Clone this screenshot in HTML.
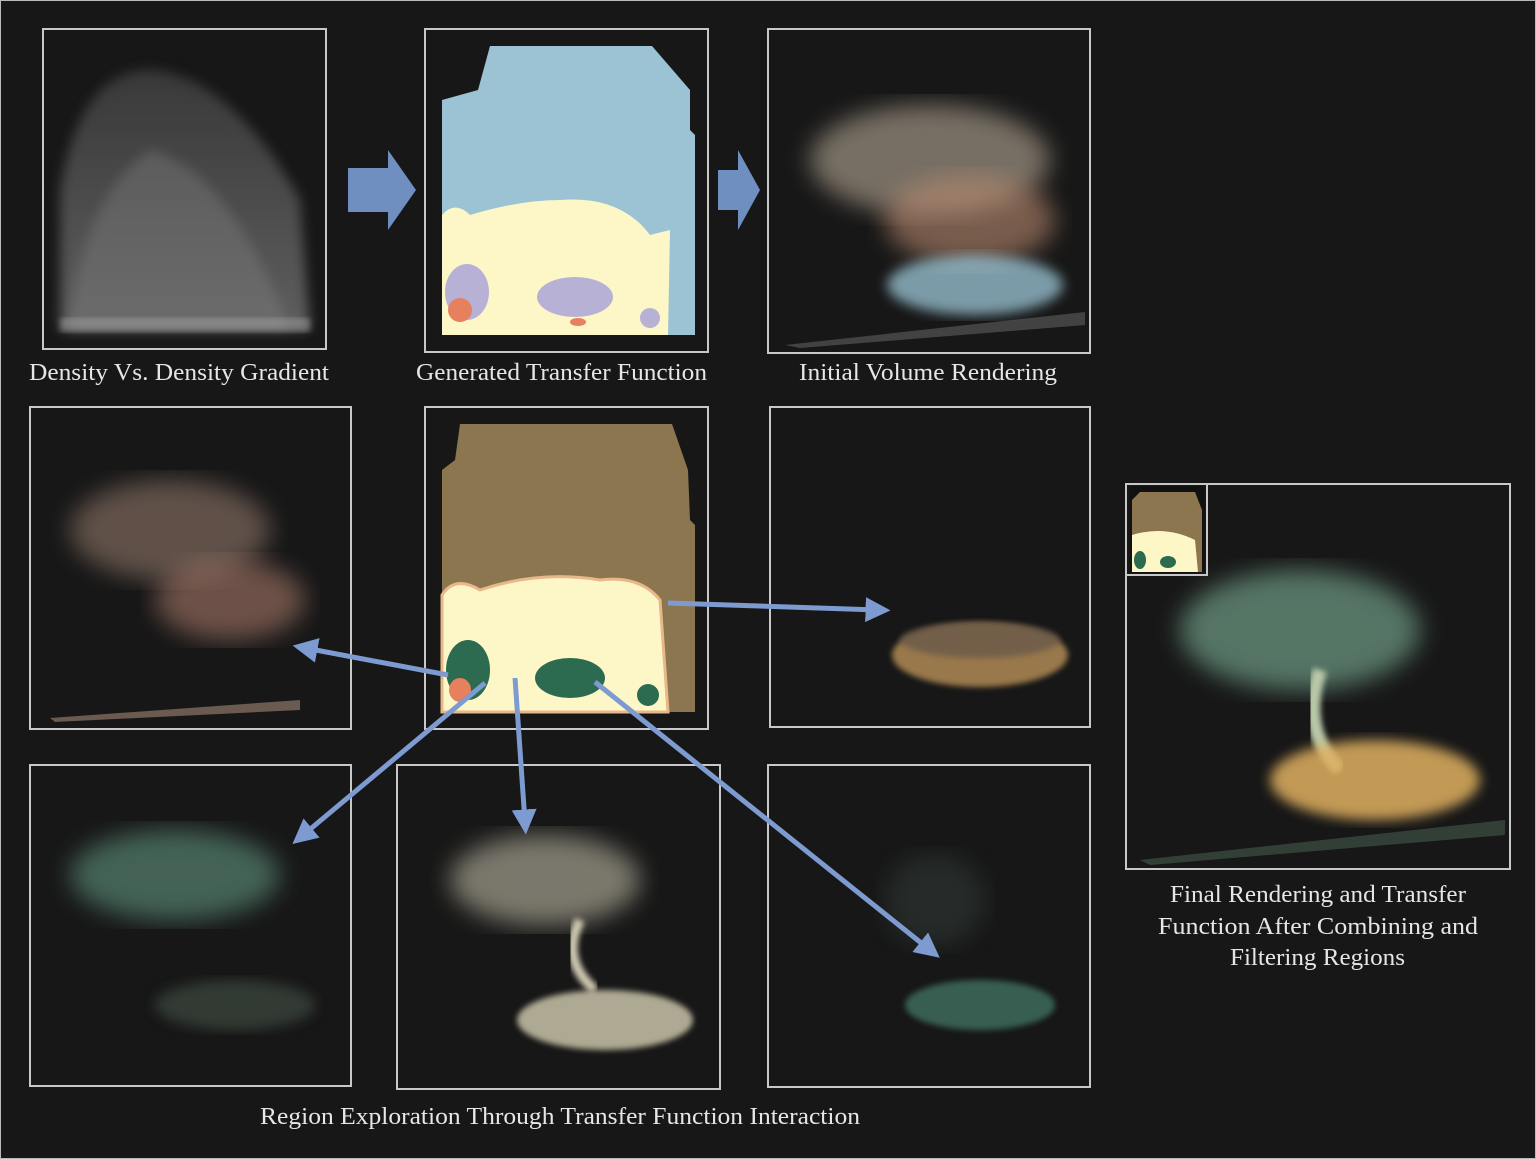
<!DOCTYPE html>
<html><head><meta charset="utf-8"><style>
html,body{margin:0;padding:0;background:#161616;}
svg{display:block}
text{font-family:"Liberation Serif",serif;fill:#e6e6e6;font-size:24px}
</style></head><body>
<svg width="1536" height="1159" viewBox="0 0 1536 1159">
<defs>
<filter id="b6"><feGaussianBlur stdDeviation="6"/></filter>
<filter id="b3"><feGaussianBlur stdDeviation="3"/></filter>
<filter id="b12"><feGaussianBlur stdDeviation="12"/></filter>
<marker id="ah" viewBox="0 0 10 10" refX="5" refY="5" markerWidth="5" markerHeight="5" orient="auto-start-reverse"><path d="M0,0 L10,5 L0,10 z" fill="#7d9bd0"/></marker>
<linearGradient id="dens" x1="0" y1="0" x2="0" y2="1"><stop offset="0" stop-color="#555"/><stop offset="1" stop-color="#999"/></linearGradient>
</defs>
<rect x="0" y="0" width="1536" height="1159" fill="#171717" stroke="#bbb" stroke-width="2"/>

<g fill="none" stroke="#c8c8c8" stroke-width="2">
<rect x="43" y="29" width="283" height="320"/>
<rect x="425" y="29" width="283" height="323"/>
<rect x="768" y="29" width="322" height="324"/>
<rect x="30" y="407" width="321" height="322"/>
<rect x="425" y="407" width="283" height="322"/>
<rect x="770" y="407" width="320" height="320"/>
<rect x="30" y="765" width="321" height="321"/>
<rect x="397" y="765" width="323" height="324"/>
<rect x="768" y="765" width="322" height="322"/>
<rect x="1126" y="484" width="384" height="385"/>
<rect x="1126" y="484" width="81" height="91"/>
</g>

<g>
<path d="M60,330 L60,190 Q80,70 150,70 Q230,75 300,200 L310,330 Z" fill="url(#dens)" opacity="0.55" filter="url(#b6)"/>
<path d="M70,330 Q80,200 150,150 Q230,170 290,330 Z" fill="#888" opacity="0.35" filter="url(#b6)"/>
<rect x="60" y="318" width="250" height="14" fill="#bbb" opacity="0.4" filter="url(#b3)"/>
</g>

<g>
<path d="M442,335 L442,100 L478,90 L490,46 L652,46 L690,90 L690,130 L695,135 L695,335 Z" fill="#9cc3d3"/>
<path d="M442,335 L442,215 Q455,200 470,215 Q520,200 560,200 Q620,195 650,235 L670,230 L668,335 Z" fill="#fdf7c8"/>
<ellipse cx="467" cy="292" rx="22" ry="28" fill="#b7b1d6"/>
<ellipse cx="575" cy="297" rx="38" ry="20" fill="#b7b1d6"/>
<ellipse cx="650" cy="318" rx="10" ry="10" fill="#b7b1d6"/>
<ellipse cx="460" cy="310" rx="12" ry="12" fill="#e7805d"/>
<ellipse cx="578" cy="322" rx="8" ry="4" fill="#e7805d"/>
</g>

<g>
<ellipse cx="930" cy="160" rx="120" ry="55" fill="#b8aa98" opacity="0.6" filter="url(#b12)"/>
<ellipse cx="970" cy="220" rx="85" ry="45" fill="#b98a70" opacity="0.6" filter="url(#b12)"/>
<ellipse cx="975" cy="285" rx="88" ry="30" fill="#9cc8d8" opacity="0.75" filter="url(#b6)"/>
<path d="M785,345 L1085,312 L1085,325 L800,348 Z" fill="#555" opacity="0.7"/>
</g>

<g>
<path d="M442,712 L442,470 L455,460 L460,424 L672,424 L688,470 L690,520 L695,525 L695,712 Z" fill="#8c7650"/>
<path d="M442,712 L442,595 Q455,575 480,590 Q540,570 600,580 Q640,575 660,600 L668,712 Z" fill="#fdf7c8" stroke="#e9b88a" stroke-width="3"/>
<ellipse cx="468" cy="670" rx="22" ry="30" fill="#2c6b4f"/>
<ellipse cx="570" cy="678" rx="35" ry="20" fill="#2c6b4f"/>
<ellipse cx="648" cy="695" rx="11" ry="11" fill="#2c6b4f"/>
<ellipse cx="460" cy="690" rx="11" ry="12" fill="#e7805d"/>
</g>

<g>
<ellipse cx="170" cy="530" rx="100" ry="50" fill="#a88a7a" opacity="0.5" filter="url(#b12)"/>
<ellipse cx="230" cy="600" rx="75" ry="40" fill="#c08a78" opacity="0.5" filter="url(#b12)"/>
<path d="M50,718 L300,700 L300,710 L55,722 Z" fill="#6a5a50"/>
</g>
<g>
<ellipse cx="980" cy="655" rx="88" ry="32" fill="#b08a55" opacity="0.85" filter="url(#b3)"/>
<ellipse cx="980" cy="640" rx="80" ry="18" fill="#6a5a48" opacity="0.8" filter="url(#b3)"/>
</g>
<g>
<ellipse cx="175" cy="875" rx="105" ry="45" fill="#5c8b78" opacity="0.65" filter="url(#b12)"/>
<ellipse cx="235" cy="1005" rx="80" ry="25" fill="#3c4a40" opacity="0.7" filter="url(#b6)"/>
</g>
<g>
<ellipse cx="545" cy="880" rx="95" ry="45" fill="#ddd8c0" opacity="0.5" filter="url(#b12)"/>
<path d="M580,920 Q560,960 595,990" stroke="#cfc9b0" stroke-width="10" fill="none" filter="url(#b3)"/>
<ellipse cx="605" cy="1020" rx="88" ry="30" fill="#c9c3a8" opacity="0.85" filter="url(#b3)"/>
</g>
<g>
<ellipse cx="980" cy="1005" rx="75" ry="25" fill="#3f7060" opacity="0.8" filter="url(#b3)"/>
<ellipse cx="935" cy="900" rx="50" ry="45" fill="#4a5a52" opacity="0.3" filter="url(#b12)"/>
</g>
<g>
<path d="M1130,486 h75 v87 h-75 z" fill="#111"/>
<path d="M1132,572 L1132,500 L1140,492 L1195,492 L1202,510 L1202,572 Z" fill="#8c7650"/>
<path d="M1132,572 L1132,535 Q1165,525 1195,540 L1198,572 Z" fill="#fdf7c8"/>
<ellipse cx="1140" cy="560" rx="6" ry="9" fill="#2c6b4f"/>
<ellipse cx="1168" cy="562" rx="8" ry="6" fill="#2c6b4f"/>
<ellipse cx="1300" cy="630" rx="120" ry="60" fill="#7fb49a" opacity="0.6" filter="url(#b12)"/>
<path d="M1320,670 Q1300,730 1340,770" stroke="#b8c8a8" stroke-width="14" fill="none" filter="url(#b3)"/>
<ellipse cx="1375" cy="780" rx="105" ry="40" fill="#e0b060" opacity="0.85" filter="url(#b6)"/>
<path d="M1140,860 L1505,820 L1505,835 L1150,865 Z" fill="#3a4a40" opacity="0.8"/>
</g>

<g>
<path d="M348,168 L388,168 L388,150 L416,190 L388,230 L388,212 L348,212 Z" fill="#6f8fc0"/>
<path d="M718,170 L738,170 L738,150 L760,190 L738,230 L738,210 L718,210 Z" fill="#6f8fc0"/>
<g stroke="#7d9bd0" stroke-width="5" fill="none" marker-end="url(#ah)">
<line x1="668" y1="603" x2="878" y2="610"/>
<line x1="448" y1="675" x2="305" y2="648"/>
<line x1="485" y1="683" x2="302" y2="836"/>
<line x1="515" y1="678" x2="525" y2="822"/>
<line x1="595" y1="682" x2="930" y2="950"/>
</g>
</g>

<text x="29" y="380" textLength="300" lengthAdjust="spacingAndGlyphs">Density Vs. Density Gradient</text>
<text x="416" y="380" textLength="291" lengthAdjust="spacingAndGlyphs">Generated Transfer Function</text>
<text x="799" y="380" textLength="258" lengthAdjust="spacingAndGlyphs">Initial Volume Rendering</text>
<text x="260" y="1124" textLength="600" lengthAdjust="spacingAndGlyphs">Region Exploration Through Transfer Function Interaction</text>
<text x="1170" y="902" textLength="296" lengthAdjust="spacingAndGlyphs">Final Rendering and Transfer</text>
<text x="1158" y="934" textLength="320" lengthAdjust="spacingAndGlyphs">Function After Combining  and</text>
<text x="1230" y="965" textLength="175" lengthAdjust="spacingAndGlyphs">Filtering Regions</text>
</svg>
</body></html>
